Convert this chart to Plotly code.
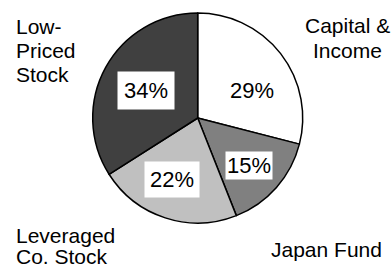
import plotly.graph_objects as go

# Data
categories = ["Capital &<br>Income", "Japan Fund", "Leveraged<br>Co. Stock", "Low-<br>Priced<br>Stock"]
values = [29, 15, 22, 34]
colors = ["#ffffff", "#808080", "#c0c0c0", "#404040"]

W, H = 391, 266
FONT = "Liberation Sans, Arial, sans-serif"

# pie placement (pixels)
cx, cy, R = 197.7, 118, 105

fig = go.Figure(go.Pie(
    values=values,
    labels=[c.replace("<br>", " ") for c in categories],
    sort=False,
    direction="clockwise",
    rotation=0,
    marker=dict(colors=colors, line=dict(color="#000000", width=1.5)),
    textinfo="none",
    hoverinfo="label+percent",
    showlegend=False,
    domain=dict(x=[(cx - R) / W, (cx + R) / W], y=[1 - (cy + R) / H, 1 - (cy - R) / H]),
))

def px(x, y):
    return x / W, 1 - y / H

annotations = []
# outside category labels: anchor x, anchor side, first-line cap-middle y, line step
label_layout = [
    (347, "center", 24.5, 24.5),
    (270, "left", 248.5, 0),
    (15, "left", 234.5, 21),
    (15, "left", 25, 24.3),
]
YOFF = 1.0  # cap-middle vs box-middle correction
for cat, (x, xa, y0, step) in zip(categories, label_layout):
    for i, line in enumerate(cat.split("<br>")):
        ax, ay = px(x, y0 + i * step + YOFF)
        annotations.append(dict(
            x=ax, y=ay, xref="paper", yref="paper", text=line, showarrow=False,
            xanchor=xa, yanchor="middle", borderpad=0,
            font=dict(family=FONT, size=21, color="#000000"),
        ))

# percentage labels inside the slices, in white boxes
pct_pos = [(252, 91, 6), (249, 165, 1), (171.5, 179, 5), (146, 90, 6)]
total = sum(values)
for v, (x, y, pad) in zip(values, pct_pos):
    ax, ay = px(x, y)
    annotations.append(dict(
        x=ax, y=ay, xref="paper", yref="paper", text=f"{round(100 * v / total)}%",
        showarrow=False, xanchor="center", yanchor="middle",
        bgcolor="#ffffff", borderpad=pad,
        font=dict(family=FONT, size=22, color="#000000"),
    ))

fig.update_layout(
    width=W, height=H,
    margin=dict(l=0, r=0, t=0, b=0),
    paper_bgcolor="#ffffff", plot_bgcolor="#ffffff",
    annotations=annotations,
)

fig.write_html(
    "out.html",
    config={"displayModeBar": False},
    post_script="document.body.style.margin='0px';document.body.style.padding='0px';",
)
